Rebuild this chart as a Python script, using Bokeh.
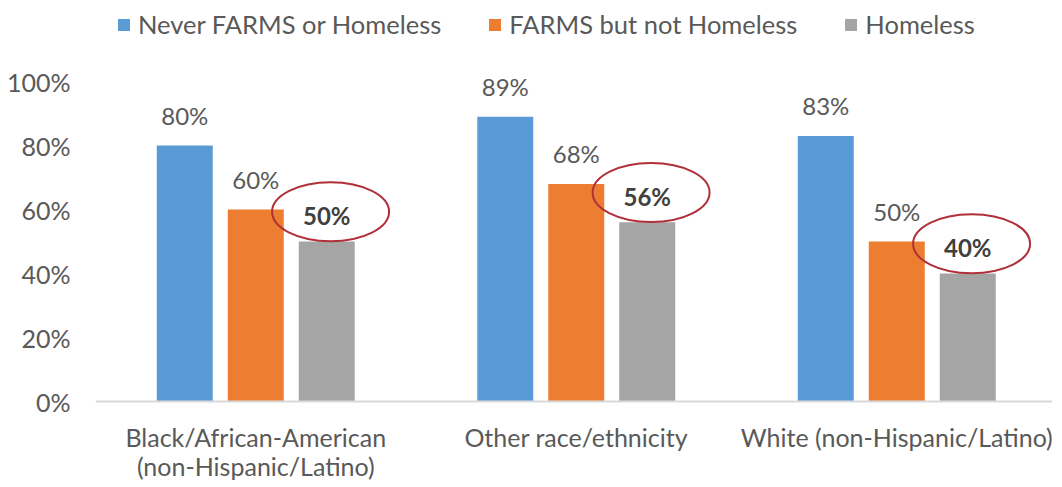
from bokeh.plotting import figure
from bokeh.models import (ColumnDataSource, Range1d, FixedTicker, PrintfTickFormatter,
                          Legend, LegendItem, Span)
from bokeh.transform import dodge
from bokeh.core.properties import value
from bokeh.embed import file_html
from bokeh.resources import INLINE

categories = ["Black/African-American\n(non-Hispanic/Latino)",
              "Other race/ethnicity",
              "White (non-Hispanic/Latino)"]
series_names = ["Never FARMS or Homeless", "FARMS but not Homeless", "Homeless"]
never_farms = [80, 89, 83]
farms_not_homeless = [60, 68, 50]
homeless = [50, 56, 40]
y_ticks = [0, 20, 40, 60, 80, 100]

colors = ["#5B9BD5", "#ED7D31", "#A5A5A5"]
text_color = "#595959"
FONT = "Lato"

xs = list(range(len(categories)))
src = ColumnDataSource(dict(
    x=xs,
    cat=categories,
    zero=[0] * len(categories),
    never=never_farms,
    farms=farms_not_homeless,
    homeless=homeless,
    never_lbl=[f"{v}%" for v in never_farms],
    farms_lbl=[f"{v}%" for v in farms_not_homeless],
    homeless_lbl=[f"{v}%" for v in homeless],
    homeless_ell=[v + 9.3 for v in homeless],
))

W, H = 1052, 482
LEFT = 95
ZERO_PX = 401          # y position (from top of canvas) of the 0% baseline
PX_PER_UNIT = 3.2
X_PX_PER_UNIT = 320.5
p = figure(width=W, height=H, output_backend="svg", toolbar_location=None,
           x_range=Range1d(-0.5, -0.5 + (W - LEFT) / X_PX_PER_UNIT),
           y_range=Range1d(-(H - ZERO_PX) / PX_PER_UNIT, ZERO_PX / PX_PER_UNIT),
           min_border_left=LEFT, min_border_right=0, min_border_top=0,
           min_border_bottom=0, outline_line_color=None,
           background_fill_color="white", border_fill_color="white")

step = 0.2215
bw = 0.1747
cols = ["never", "farms", "homeless"]
renderers = []
for i, (c, col) in enumerate(zip(cols, colors)):
    r = p.vbar(x=dodge("x", (i - 1) * step, range=p.x_range), top=c, width=bw,
               source=src, fill_color=col, line_color=None)
    renderers.append(r)

# baseline (category axis line)
p.add_layout(Span(location=0, dimension="width", line_color="#D9D9D9", line_width=2))

# value labels
for i, c in enumerate(cols[:2]):
    p.text(x=dodge("x", (i - 1) * step, range=p.x_range), y=c, text=f"{c}_lbl",
           source=src, text_align="center", text_baseline="alphabetic",
           y_offset=-30, text_font=value(FONT), text_font_size="24px",
           text_color=text_color)
p.text(x=dodge("x", step, range=p.x_range), y="homeless", text="homeless_lbl",
       source=src, text_align="center", text_baseline="alphabetic",
       y_offset=-26, text_font=value(FONT), text_font_size="24px",
       text_font_style="bold", text_color="#404040")

# highlight ellipses around homeless values
p.ellipse(x=dodge("x", step + 0.012, range=p.x_range), y="homeless_ell",
          width=117, height=59, width_units="screen", height_units="screen",
          source=src, fill_color=None, line_color="#B0303A", line_width=2)

# category labels
p.text(x="x", y="zero", text="cat", source=src, text_align="center",
       text_baseline="top", y_offset=20, text_line_height=0.98,
       text_font=value(FONT), text_font_size="25px", text_color=text_color)

# axes
p.xgrid.visible = False
p.ygrid.visible = False
p.xaxis.visible = False

p.yaxis.ticker = FixedTicker(ticks=y_ticks)
p.yaxis.formatter = PrintfTickFormatter(format="%d%%")
p.yaxis.axis_line_color = None
p.yaxis.major_tick_line_color = None
p.yaxis.major_tick_out = 0
p.yaxis.minor_tick_line_color = None
p.yaxis.major_label_standoff = 25
p.yaxis.major_label_text_font = FONT
p.yaxis.major_label_text_font_size = "25px"
p.yaxis.major_label_text_color = text_color

legend = Legend(items=[LegendItem(label=n, renderers=[r]) for n, r in zip(series_names, renderers)],
                orientation="horizontal", location=(21, H - 39),
                border_line_color=None, background_fill_alpha=0,
                padding=0, margin=0, spacing=46, label_standoff=7,
                glyph_width=15, glyph_height=15, label_height=15,
                label_text_font=FONT, label_text_font_size="25.5px",
                label_text_color=text_color)
p.add_layout(legend)

open("out.html", "w").write(file_html(p, INLINE))
